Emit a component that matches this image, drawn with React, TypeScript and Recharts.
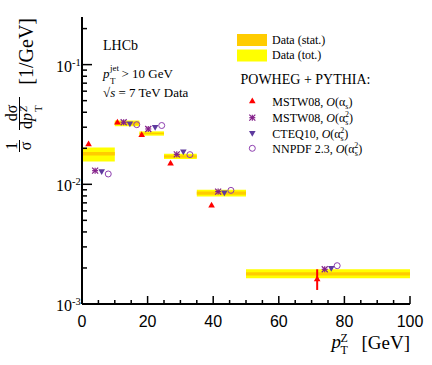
import React from "react";
import {
  ComposedChart,
  Scatter,
  XAxis,
  YAxis,
  ReferenceArea,
  ErrorBar,
} from "recharts";

// measured bins (pT^Z, GeV)
const binLow = [0, 10, 17.5, 25, 35, 50];
const binHigh = [10, 17.5, 25, 35, 50, 100];
// data bands
const statLow = [0.0174, 0.0315, 0.0262, 0.0167, 0.0082, 0.00173];
const statHigh = [0.0186, 0.0334, 0.027, 0.0175, 0.0087, 0.00184];
const totLow = [0.0155, 0.0305, 0.0255, 0.0163, 0.0079, 0.00164];
const totHigh = [0.0203, 0.0342, 0.0277, 0.018, 0.009, 0.00195];

// POWHEG + PYTHIA predictions
const mstwLoX = [2, 10.8, 18.2, 27, 39.5, 71.7];
const mstwLoY = [0.0217, 0.033, 0.026, 0.015, 0.0067, 0.00162];
const mstwLoErrDown = [0, 0, 0, 0, 0, 0.00031];
const mstwLoErrUp = [0, 0, 0, 0, 0, 0.00033];
const mstwNloX = [4, 12.7, 20.2, 28.9, 41.5, 74];
const mstwNloY = [0.013, 0.033, 0.029, 0.0178, 0.0087, 0.00195];
const cteqX = [6, 14.6, 22.3, 30.9, 43.4, 76];
const cteqY = [0.0128, 0.032, 0.03, 0.0187, 0.0085, 0.00199];
const nnpdfX = [8, 16.7, 24.3, 32.9, 45.4, 77.8];
const nnpdfY = [0.0122, 0.0315, 0.031, 0.0177, 0.0089, 0.00209];

const xTicks = [0, 5, 10, 15, 20, 25, 30, 35, 40, 45, 50, 55, 60, 65, 70, 75, 80, 85, 90, 95, 100];
const yTicks = [
  0.001, 0.002, 0.003, 0.004, 0.005, 0.006, 0.007, 0.008, 0.009,
  0.01, 0.02, 0.03, 0.04, 0.05, 0.06, 0.07, 0.08, 0.09,
  0.1, 0.2,
];
const yDecades = [0.001, 0.01, 0.1];
const yDecadeExp = ["-3", "-2", "-1"];

const SERIF = "'Liberation Serif', 'Times New Roman', serif";
const SANS = "'Liberation Sans', Arial, sans-serif";

const RED = "#ff0000";
const STAR = "#84208a";
const CTEQ = "#5e3a9e";
const NNPDF = "#8e3fb0";
const STAT = "#ffcc00";
const TOT = "#ffff00";

const mstwLo = mstwLoX.map((x, i) => ({ x, y: mstwLoY[i], err: [mstwLoErrDown[i], mstwLoErrUp[i]] }));
const mstwNlo = mstwNloX.map((x, i) => ({ x, y: mstwNloY[i] }));
const cteq = cteqX.map((x, i) => ({ x, y: cteqY[i] }));
const nnpdf = nnpdfX.map((x, i) => ({ x, y: nnpdfY[i] }));

type Kind = "up" | "star" | "down" | "circle";

function Marker({ kind, cx, cy }: { kind: Kind; cx: number; cy: number }) {
  if (cx == null || cy == null) return null;
  if (kind === "up")
    return <polygon points={`${cx},${cy - 3.5} ${cx + 3.3},${cy + 2.3} ${cx - 3.3},${cy + 2.3}`} fill={RED} />;
  if (kind === "down")
    return <polygon points={`${cx},${cy + 3.5} ${cx + 3.3},${cy - 2.3} ${cx - 3.3},${cy - 2.3}`} fill={CTEQ} />;
  if (kind === "circle")
    return <circle cx={cx} cy={cy} r={3} fill="none" stroke={NNPDF} strokeWidth={1} />;
  const s = 3;
  return (
    <g stroke={STAR} strokeWidth={1.2}>
      <line x1={cx - s} x2={cx + s} y1={cy} y2={cy} />
      <line x1={cx} x2={cx} y1={cy - s} y2={cy + s} />
      <line x1={cx - s} x2={cx + s} y1={cy - s} y2={cy + s} />
      <line x1={cx - s} x2={cx + s} y1={cy + s} y2={cy - s} />
    </g>
  );
}

const series: { name: React.ReactNode; kind: Kind }[] = [
  {
    kind: "up",
    name: (
      <>
        MSTW08, <tspan fontStyle="italic">O</tspan>(α<tspan fontSize={8} dy={3}>s</tspan>
        <tspan dy={-3}>)</tspan>
      </>
    ),
  },
  {
    kind: "star",
    name: (
      <>
        MSTW08, <tspan fontStyle="italic">O</tspan>(α<tspan fontSize={8} dy={3}>s</tspan>
        <tspan fontSize={8} dx={-3.5} dy={-8}>2</tspan>
        <tspan dy={5}>)</tspan>
      </>
    ),
  },
  {
    kind: "down",
    name: (
      <>
        CTEQ10, <tspan fontStyle="italic">O</tspan>(α<tspan fontSize={8} dy={3}>s</tspan>
        <tspan fontSize={8} dx={-3.5} dy={-8}>2</tspan>
        <tspan dy={5}>)</tspan>
      </>
    ),
  },
  {
    kind: "circle",
    name: (
      <>
        NNPDF 2.3, <tspan fontStyle="italic">O</tspan>(α<tspan fontSize={8} dy={3}>s</tspan>
        <tspan fontSize={8} dx={-3.5} dy={-8}>2</tspan>
        <tspan dy={5}>)</tspan>
      </>
    ),
  },
];

function BottomTick({ x, y, payload }: any) {
  const v = payload.value;
  const major = v % 20 === 0;
  return (
    <g>
      <line x1={x} x2={x} y1={y} y2={y - (major ? 8 : 4)} stroke="#000" strokeWidth={1.5} />
      {major && (
        <text x={x} y={y + 23} textAnchor="middle" fontFamily={SANS} fontSize={16} fill="#000">
          {v}
        </text>
      )}
    </g>
  );
}

function TopTick({ x, y, payload }: any) {
  const major = payload.value % 20 === 0;
  return <line x1={x} x2={x} y1={y} y2={y + (major ? 8 : 4)} stroke="#000" strokeWidth={1.5} />;
}

function LeftTick({ x, y, payload }: any) {
  const d = yDecades.indexOf(payload.value);
  return (
    <g>
      <line x1={x} x2={x + (d >= 0 ? 10 : 5)} y1={y} y2={y} stroke="#000" strokeWidth={1.5} />
      {d >= 0 && (
        <g fontFamily={SERIF} fill="#000">
          <text x={x - 10} y={y + 7} fontSize={16} textAnchor="end">10</text>
          <text x={x - 10} y={y + 1} fontSize={10.5}>{yDecadeExp[d]}</text>
        </g>
      )}
    </g>
  );
}

function RightTick({ x, y, payload }: any) {
  const major = yDecades.includes(payload.value);
  return <line x1={x} x2={x - (major ? 10 : 5)} y1={y} y2={y} stroke="#000" strokeWidth={1.5} />;
}

function XTitle({ viewBox }: any) {
  const r = viewBox.x + viewBox.width;
  const b = viewBox.y + 45;
  return (
    <g fontFamily={SERIF} fill="#000">
      <text x={r - 78.5} y={b - 1} fontSize={19} fontStyle="italic">p</text>
      <text x={r - 69.5} y={b - 7} fontSize={12}>Z</text>
      <text x={r - 69.5} y={b + 5} fontSize={12}>T</text>
      <text x={r} y={b} fontSize={19} textAnchor="end">[GeV]</text>
    </g>
  );
}

function YTitle({ viewBox }: any) {
  const t = viewBox.y;
  // rotated frame: local x = -page y, local y = page x
  return (
    <g transform="rotate(-90)" fontFamily={SERIF} fill="#000">
      <text x={-(t + 1)} y={33} fontSize={20} textAnchor="end">[1/GeV]</text>
      <text x={-(t + 96)} y={17} fontSize={16} textAnchor="middle">dσ</text>
      <line x1={-(t + 113)} x2={-(t + 80)} y1={19.5} y2={19.5} stroke="#000" strokeWidth={1} />
      <text x={-(t + 112)} y={32} fontSize={16}>
        d<tspan fontStyle="italic">p</tspan>
      </text>
      <text x={-(t + 95)} y={27} fontSize={11} fontStyle="italic">Z</text>
      <text x={-(t + 95)} y={42} fontSize={11}>T</text>
      <text x={-(t + 129)} y={17} fontSize={16} textAnchor="middle">1</text>
      <line x1={-(t + 135)} x2={-(t + 123)} y1={19.5} y2={19.5} stroke="#000" strokeWidth={1} />
      <text x={-(t + 129)} y={31} fontSize={16} textAnchor="middle">σ</text>
    </g>
  );
}

function Overlay() {
  const ys = [101, 117.7, 133.3, 148.3];
  return (
    <svg
      width={432}
      height={365}
      style={{ position: "absolute", left: 0, top: 0, pointerEvents: "none" }}
      fontFamily={SERIF}
    >
      <text x={103} y={50} fontSize={14}>LHCb</text>
      <text x={103} y={78} fontSize={13} fontStyle="italic">p</text>
      <text x={110} y={71} fontSize={9}>jet</text>
      <text x={110} y={84} fontSize={9}>T</text>
      <text x={121.5} y={78} fontSize={13}>&gt; 10 GeV</text>
      <text x={103} y={97} fontSize={13}>
        √<tspan fontStyle="italic">s</tspan> = 7 TeV Data
      </text>

      <rect x={237} y={34} width={30} height={12} fill={STAT} />
      <rect x={237} y={49.5} width={30} height={12} fill={TOT} />
      <text x={272} y={44} fontSize={12}>Data (stat.)</text>
      <text x={272} y={58.5} fontSize={12}>Data (tot.)</text>
      <text x={240.5} y={83.5} fontSize={14}>POWHEG + PYTHIA:</text>
      {series.map((s, i) => (
        <g key={i}>
          <Marker kind={s.kind} cx={252.3} cy={ys[i]} />
          <text x={272.3} y={ys[i] + 4.5} fontSize={12}>{s.name}</text>
        </g>
      ))}
    </svg>
  );
}

export default function App() {
  return (
    <div style={{ position: "absolute", left: 0, top: 0, width: 432, height: 365, background: "#fff" }}>
      <ComposedChart width={432} height={365} margin={{ top: 17, right: 22, bottom: 0, left: 0 }}>
        <XAxis
          type="number"
          dataKey="x"
          domain={[0, 100]}
          ticks={xTicks}
          interval={0}
          height={61}
          tickSize={0}
          tickMargin={0}
          tickLine={false}
          axisLine={{ stroke: "#000", strokeWidth: 2 }}
          tick={<BottomTick />}
          label={{ content: XTitle as any }}
          allowDataOverflow
        />
        <XAxis
          xAxisId="top"
          orientation="top"
          type="number"
          domain={[0, 100]}
          ticks={xTicks}
          interval={0}
          height={0}
          tickSize={0}
          tickMargin={0}
          tickLine={false}
          axisLine={{ stroke: "#000", strokeWidth: 2 }}
          tick={<TopTick />}
          allowDataOverflow
        />
        <YAxis
          type="number"
          dataKey="y"
          scale="log"
          domain={[0.001, 0.25]}
          ticks={yTicks}
          interval={0}
          width={82}
          tickSize={0}
          tickMargin={0}
          tickLine={false}
          axisLine={{ stroke: "#000", strokeWidth: 2 }}
          tick={<LeftTick />}
          label={{ content: YTitle as any }}
          allowDataOverflow
        />
        <YAxis
          yAxisId="right"
          orientation="right"
          type="number"
          scale="log"
          domain={[0.001, 0.25]}
          ticks={yTicks}
          interval={0}
          width={0}
          tickSize={0}
          tickMargin={0}
          tickLine={false}
          axisLine={{ stroke: "#000", strokeWidth: 2 }}
          tick={<RightTick />}
          allowDataOverflow
        />
        {binLow.map((lo, i) => (
          <ReferenceArea
            key={`tot${i}`}
            x1={lo}
            x2={binHigh[i]}
            y1={totLow[i]}
            y2={totHigh[i]}
            fill={TOT}
            fillOpacity={1}
            stroke="none"
          />
        ))}
        {binLow.map((lo, i) => (
          <ReferenceArea
            key={`stat${i}`}
            x1={lo}
            x2={binHigh[i]}
            y1={statLow[i]}
            y2={statHigh[i]}
            fill={STAT}
            fillOpacity={1}
            stroke="none"
          />
        ))}
        <Scatter
          data={mstwLo}
          dataKey="y"
          isAnimationActive={false}
          shape={(p: any) => <Marker kind="up" cx={p.cx} cy={p.cy} />}
        >
          <ErrorBar dataKey="err" direction="y" width={0} stroke={RED} strokeWidth={2} />
        </Scatter>
        <Scatter
          data={mstwNlo}
          dataKey="y"
          isAnimationActive={false}
          shape={(p: any) => <Marker kind="star" cx={p.cx} cy={p.cy} />}
        />
        <Scatter
          data={cteq}
          dataKey="y"
          isAnimationActive={false}
          shape={(p: any) => <Marker kind="down" cx={p.cx} cy={p.cy} />}
        />
        <Scatter
          data={nnpdf}
          dataKey="y"
          isAnimationActive={false}
          shape={(p: any) => <Marker kind="circle" cx={p.cx} cy={p.cy} />}
        />
      </ComposedChart>
      <Overlay />
    </div>
  );
}
